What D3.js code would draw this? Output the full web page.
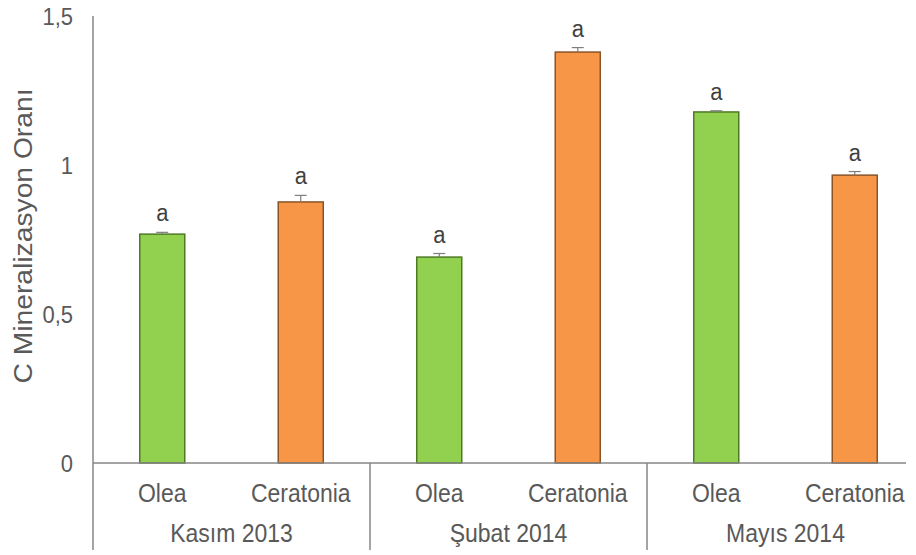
<!DOCTYPE html>
<html>
<head>
<meta charset="utf-8">
<script src="https://cdn.jsdelivr.net/npm/d3@7"></script>
<style>
  body { margin: 0; background: #fff; }
  svg text { font-family: "Liberation Sans", Arial, sans-serif; fill: #595959; }
</style>
</head>
<body>
<svg id="chart" width="916" height="555"></svg>
<script>
// --- Data ---
const periods = ["Kasım 2013", "Şubat 2014", "Mayıs 2014"];
const species = ["Olea", "Ceratonia"];
const values = [0.768, 0.876, 0.691, 1.379, 1.178, 0.966];
const errors = [0.006, 0.022, 0.012, 0.015, 0.004, 0.012];
const letters = ["a", "a", "a", "a", "a", "a"];
const yTicks = [0, 0.5, 1, 1.5];

const colors = { Olea: "#92d050", Ceratonia: "#f79646" };
const strokes = { Olea: "#4e7a25", Ceratonia: "#8a5428" };

// --- Layout ---
const margin = { left: 93, top: 16, right: -8, baseline: 463 };
const width = 916, height = 555;
const axisColor = "#868686";
const stretch = 1.12; // text in the reference is a bit taller than wide

const svg = d3.select("#chart");

const y = d3.scaleLinear().domain([0, 1.5]).range([margin.baseline, margin.top]);

const bars = [];
periods.forEach((p, i) => species.forEach((s, j) => {
  const k = i * species.length + j;
  bars.push({ period: p, species: s, key: p + "|" + s, value: values[k], err: errors[k], letter: letters[k] });
}));

const x = d3.scaleBand()
  .domain(bars.map(d => d.key))
  .range([margin.left, width - margin.right])
  .paddingInner(0.675)
  .paddingOuter(0.3375);

const xGroup = d3.scaleBand().domain(periods).range([margin.left, width - margin.right]);

// helper: text stretched vertically around its baseline
function label(sel, cx, cy, size) {
  sel.attr("transform", d => `translate(${cx(d)},${cy(d)}) scale(1,${stretch})`)
    .attr("text-anchor", "middle")
    .attr("font-size", size);
  return sel;
}

// y axis ticks
const yAxis = svg.append("g")
  .attr("transform", `translate(${margin.left},0)`)
  .call(d3.axisLeft(y).tickValues(yTicks).tickSize(0).tickPadding(20)
    .tickFormat(d => d3.format("")(d).replace(".", ",")));
yAxis.select(".domain").remove();
yAxis.selectAll(".tick text").each(function () {
  const t = d3.select(this);
  t.attr("x", null).attr("dy", null)
    .attr("transform", `translate(-20,${8.5}) scale(1,${stretch})`)
    .attr("font-size", 22)
    .style("fill", "#595959");
});

svg.append("line")
  .attr("x1", margin.left).attr("x2", margin.left)
  .attr("y1", margin.top).attr("y2", 550)
  .attr("stroke", axisColor).attr("stroke-width", 1.5);

// y title
svg.append("text")
  .attr("transform", `translate(32,236) rotate(-90) scale(1.13,1)`)
  .attr("text-anchor", "middle")
  .attr("font-size", 25)
  .text("C Mineralizasyon Oranı");

// bars
svg.selectAll("rect.bar").data(bars).enter().append("rect")
  .attr("class", "bar")
  .attr("x", d => x(d.key))
  .attr("width", x.bandwidth())
  .attr("y", d => y(d.value))
  .attr("height", d => y(0) - y(d.value))
  .attr("fill", d => colors[d.species])
  .attr("stroke", d => strokes[d.species])
  .attr("stroke-width", 1.5);

// error bars
const cxBar = d => x(d.key) + x.bandwidth() / 2;
const eb = svg.selectAll("g.err").data(bars).enter().append("g").attr("class", "err");
eb.append("line")
  .attr("x1", cxBar).attr("x2", cxBar)
  .attr("y1", d => y(d.value)).attr("y2", d => y(d.value + d.err))
  .attr("stroke", "#7f7f7f").attr("stroke-width", 1.2);
eb.append("line")
  .attr("x1", d => cxBar(d) - 6).attr("x2", d => cxBar(d) + 6)
  .attr("y1", d => y(d.value + d.err)).attr("y2", d => y(d.value + d.err))
  .attr("stroke", "#7f7f7f").attr("stroke-width", 1.2);

// significance letters
label(svg.selectAll("text.letter").data(bars).enter().append("text").attr("class", "letter"),
  cxBar, d => y(d.value + d.err) - 11, 22)
  .style("fill", "#404040")
  .text(d => d.letter);

// baseline
svg.append("line")
  .attr("x1", margin.left).attr("x2", 906)
  .attr("y1", y(0)).attr("y2", y(0))
  .attr("stroke", axisColor).attr("stroke-width", 1.5);

// category labels
label(svg.selectAll("text.cat").data(bars).enter().append("text").attr("class", "cat"),
  cxBar, () => 502, 23)
  .text(d => d.species);

// group separators
svg.selectAll("line.sep").data(periods.slice(1)).enter().append("line")
  .attr("class", "sep")
  .attr("x1", d => xGroup(d)).attr("x2", d => xGroup(d))
  .attr("y1", y(0)).attr("y2", 550)
  .attr("stroke", axisColor).attr("stroke-width", 1.5);

// group labels
label(svg.selectAll("text.grp").data(periods).enter().append("text").attr("class", "grp"),
  d => xGroup(d) + xGroup.bandwidth() / 2, () => 542, 23)
  .text(d => d);
</script>
</body>
</html>
